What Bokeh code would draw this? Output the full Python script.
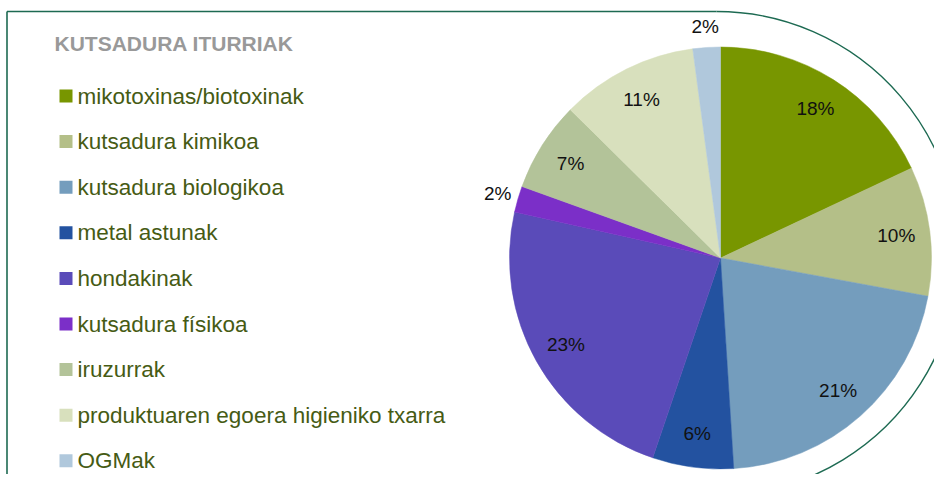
import numpy as np
from bokeh.plotting import figure
from bokeh.models import ColumnDataSource, Range1d
from bokeh.core.properties import value
from bokeh.embed import file_html
from bokeh.resources import INLINE

# ---- data ----
title = "KUTSADURA ITURRIAK"
categories = [
    "mikotoxinas/biotoxinak",
    "kutsadura kimikoa",
    "kutsadura biologikoa",
    "metal astunak",
    "hondakinak",
    "kutsadura físikoa",
    "iruzurrak",
    "produktuaren egoera higieniko txarra",
    "OGMak",
]
shares = [18.0, 9.9, 21.1, 6.2, 23.3, 2.0, 6.9, 10.5, 2.1]
labels = ["18%", "10%", "21%", "6%", "23%", "2%", "7%", "11%", "2%"]
colors = ["#789600", "#b4bf88", "#749dbd", "#2352a0", "#5a4bb9",
          "#7b2fc8", "#b3c399", "#d8e0bd", "#b0c8dc"]

W, H = 934, 474
FONT = "Liberation Sans"

p = figure(width=W, height=H, output_backend="svg", toolbar_location=None,
           x_range=Range1d(0, W), y_range=Range1d(0, H), min_border=0)
p.axis.visible = False
p.grid.visible = False
p.outline_line_color = None
p.background_fill_color = "white"
p.border_fill_color = "white"

# ---- frame ----
frame_col = "#1d6a52"
fcx, fcy, fr = 716, 221, 242
p.segment(x0=[6.5, 6.5], y0=[fcy + fr, fcy + fr], x1=[fcx, 6.5], y1=[fcy + fr, -5],
          line_color=frame_col, line_width=1.6)
p.arc(x=fcx, y=fcy, radius=fr, start_angle=np.pi / 2, end_angle=-np.pi * 0.6,
      direction="clock", line_color=frame_col, line_width=1.4)

# ---- pie ----
cx, cy, r = 720, 216.5, 211
vals = np.array(shares, dtype=float)
frac = vals / vals.sum()
cum = np.concatenate([[0], np.cumsum(frac)])
start = np.pi / 2 - 2 * np.pi * cum[:-1]
end = np.pi / 2 - 2 * np.pi * cum[1:]
mid = (start + end) / 2
lr = np.where(vals < 4, r * 1.1, r * 0.84)

src = ColumnDataSource(dict(start=start, end=end, color=colors,
                            lx=cx + lr * np.cos(mid), ly=cy + lr * np.sin(mid),
                            label=labels))
p.wedge(x=cx, y=cy, radius=r, start_angle="start", end_angle="end",
        direction="clock", fill_color="color", line_color="color",
        line_width=0.5, source=src)
p.text(x="lx", y="ly", text="label", source=src, text_align="center",
       text_baseline="middle", text_font=value(FONT), text_font_size="19px",
       text_color="#111111")

# ---- legend ----
p.text(x=[54], y=[H - 42.5], text=[title], text_font=value(FONT),
       text_font_size="21px", text_font_style="bold", text_color="#999999",
       text_baseline="middle")
n = len(categories)
row_y = (H - 95.5) - 45.6 * np.arange(n)
leg = ColumnDataSource(dict(y=row_y, name=categories, color=colors))
p.scatter(x=65.5, y="y", marker="square", size=13, fill_color="color",
          line_color=None, source=leg)
p.text(x=77, y="y", text="name", source=leg, text_font=value(FONT),
       text_font_size="22.5px", text_color="#465b14", text_baseline="middle")

open("out.html", "w").write(file_html(p, INLINE))
